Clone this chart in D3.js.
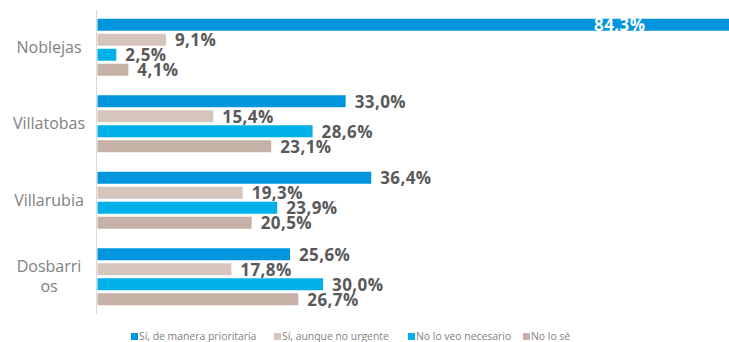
<!DOCTYPE html>
<html>
<head>
<meta charset="utf-8">
<script src="https://cdn.jsdelivr.net/npm/d3@7"></script>
<style>
  body { margin: 0; background: #fff; }
  svg { display: block; }
</style>
</head>
<body>
<script>
var width = 729,
    height = 342;

// data
var towns = ["Noblejas", "Villatobas", "Villarubia", "Dosbarrios"];
var series = ["Sí, de manera prioritaria", "Sí, aunque no urgente", "No lo veo necesario", "No lo sé"];
var prioritaria = [84.3, 33.0, 36.4, 25.6];
var noUrgente = [9.1, 15.4, 19.3, 17.8];
var noNecesario = [2.5, 28.6, 23.9, 30.0];
var noLoSe = [4.1, 23.1, 20.5, 26.7];
var colors = ["#0096dd", "#d5c5bd", "#00b0e8", "#c6b1a7"];

var values = [prioritaria, noUrgente, noNecesario, noLoSe];

var rows = [];
towns.forEach(function(t, i) {
    series.forEach(function(s, j) {
        rows.push({ town: t, serie: s, idx: j, value: values[j][i] });
    });
});

var svg = d3.select("body").append("svg")
    .attr("width", width)
    .attr("height", height);

var x = d3.scaleLinear()
    .domain([0, 100])
    .range([97.5, 849.5]);

var y0 = d3.scaleBand()
    .domain(towns)
    .range([9, 315]);

var y1 = d3.scaleBand()
    .domain(series)
    .range([0, y0.bandwidth()])
    .paddingInner(0.2)
    .paddingOuter(0.65);

var color = d3.scaleOrdinal().domain(series).range(colors);

// axis line
svg.append("line")
    .attr("x1", 96.5).attr("x2", 96.5)
    .attr("y1", 10).attr("y2", 314)
    .style("stroke", "#d9d9d9")
    .style("stroke-width", 1);

svg.append("g").selectAll("rect")
    .data(rows)
    .enter().append("rect")
    .attr("x", x(0))
    .attr("y", function(d) { return y0(d.town) + y1(d.serie); })
    .attr("width", function(d) { return x(d.value) - x(0); })
    .attr("height", y1.bandwidth())
    .style("fill", function(d) { return color(d.serie); });

var fmt = function(v) { return v.toFixed(1).replace(".", ",") + "%"; };

// value labels, the long bar gets its label inside in white
svg.append("g").selectAll("text")
    .data(rows)
    .enter().append("text")
    .attr("x", function(d) { return d.value > 70 ? x(d.value) - 86 : x(d.value) + 9; })
    .attr("y", function(d) { return y0(d.town) + y1(d.serie) + y1.bandwidth() / 2; })
    .attr("dy", "0.37em")
    .attr("text-anchor", function(d) { return d.value > 70 ? "end" : "start"; })
    .style("font-family", "'Open Sans', sans-serif")
    .style("font-weight", "bold")
    .style("font-size", "17px")
    .style("letter-spacing", "0.4px")
    .style("fill", function(d) { return d.value > 70 ? "#ffffff" : "#595959"; })
    .text(function(d) { return fmt(d.value); });

// category labels (Dosbarrios wraps in the original)
var catLines = {
    "Noblejas": ["Noblejas"],
    "Villatobas": ["Villatobas"],
    "Villarubia": ["Villarubia"],
    "Dosbarrios": ["Dosbarri", "os"]
};

svg.append("g").selectAll("text")
    .data(towns)
    .enter().append("text")
    .attr("text-anchor", "middle")
    .style("font-family", "'Open Sans', sans-serif")
    .style("font-size", "16px")
    .style("fill", "#808080")
    .each(function(d) {
        var lines = catLines[d];
        var mid = y0(d) + y0.bandwidth() / 2;
        var top = mid - (lines.length - 1) * 10;
        var el = d3.select(this);
        lines.forEach(function(l, k) {
            el.append("tspan")
                .attr("x", 49)
                .attr("y", top + k * 20)
                .attr("dy", "0.35em")
                .text(l);
        });
    });

// legend
var legendX = [131, 274, 408, 523];
var legend = svg.append("g").selectAll("g")
    .data(series)
    .enter().append("g")
    .attr("transform", function(d, i) { return "translate(" + legendX[i] + ",333)"; });

legend.append("rect")
    .attr("width", 7).attr("height", 7)
    .style("fill", function(d) { return color(d); });

legend.append("text")
    .attr("x", 8)
    .attr("y", 3.5)
    .attr("dy", "0.35em")
    .style("font-family", "'Open Sans', sans-serif")
    .style("font-size", "10.4px")
    .style("fill", "#7f7f7f")
    .text(function(d) { return d; });
</script>
</body>
</html>
